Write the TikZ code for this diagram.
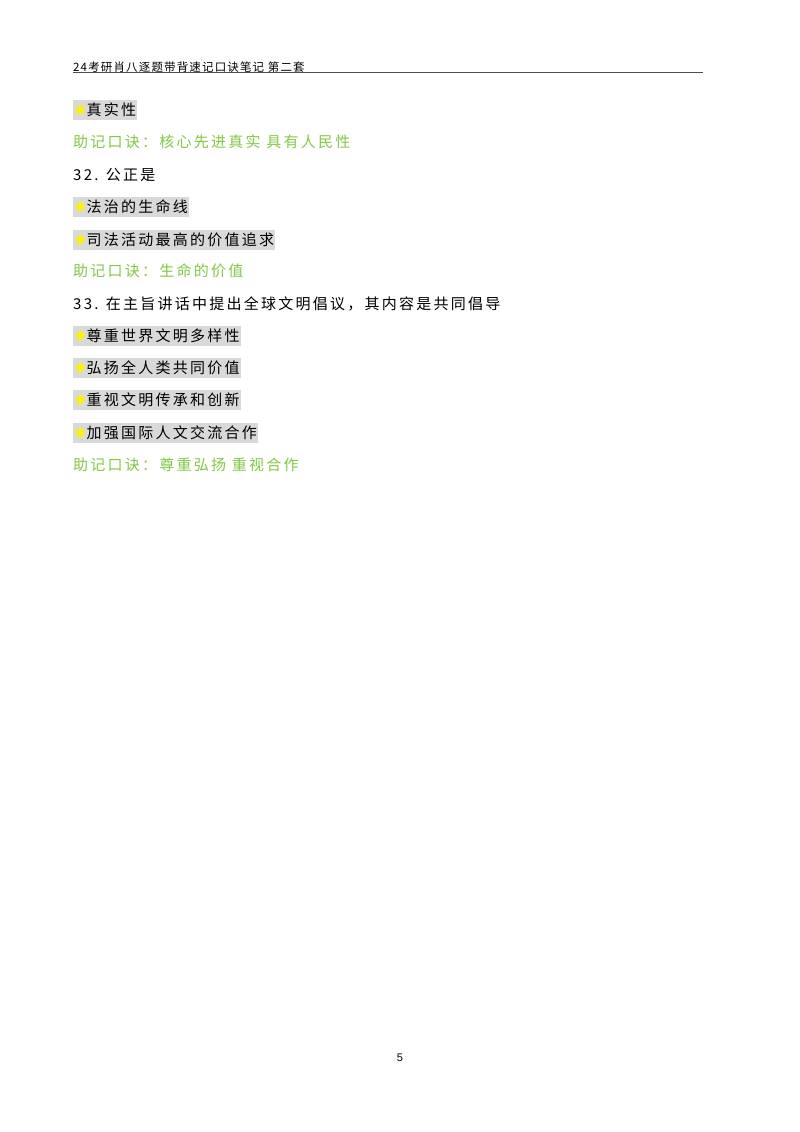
\documentclass[tikz,border=0pt]{standalone}
\usepackage{fontspec}
\setmainfont{Liberation Sans}
\newfontfamily\cjk[LetterSpace=15]{Noto Sans CJK SC}
\newfontfamily\cjkh[LetterSpace=10]{Noto Sans CJK SC}
\usetikzlibrary{shapes.geometric}
\definecolor{mgreen}{RGB}{130,200,70}
\begin{document}
\begin{tikzpicture}[x=1pt,y=-1pt,
  body/.style={anchor=west,inner sep=0pt,font=\cjk\fontsize{15}{18}\selectfont},
  hl/.style={body,fill=black!15,inner ysep=3pt,inner xsep=1pt},
  mnem/.style={body,text=mgreen},
  ttl/.style={body},
  st/.style={star,star points=5,star point ratio=2.3,fill=yellow,inner sep=0pt,minimum size=13pt}]
\useasboundingbox (0,0) rectangle (800,1132);
\fill[white] (0,0) rectangle (800,1132);
\node[anchor=base west,inner sep=0pt,font=\cjkh\fontsize{11.5}{14}\selectfont] (hd) at (73,71) {24考研肖八逐题带背速记口诀笔记\ 第二套};
\coordinate (l1) at (73,72); \coordinate (l2) at (703,72);
\draw[black!70,line width=0.8pt] (l1) -- (l2);
\newcommand{\itm}[3]{\node[hl] (#1) at (73,#2) {\tikz[baseline=-6pt]\node[st]{};#3};}
\itm{a}{110}{真实性}
\node[mnem] (m1) at (73,142) {助记口诀：核心先进真实\ 具有人民性};
\node[ttl] (q32) at (73,175) {32. 公正是};
\itm{b}{207}{法治的生命线}
\itm{c}{240}{司法活动最高的价值追求}
\node[mnem] (m2) at (73,271) {助记口诀：生命的价值};
\node[ttl] (q33) at (73,304) {33. 在主旨讲话中提出全球文明倡议，其内容是共同倡导};
\itm{d}{336}{尊重世界文明多样性}
\itm{e}{368}{弘扬全人类共同价值}
\itm{f}{400}{重视文明传承和创新}
\itm{g}{433}{加强国际人文交流合作}
\node[mnem] (m3) at (73,465) {助记口诀：尊重弘扬\ 重视合作};
\node[font=\fontsize{11}{13}\selectfont] (pg) at (400,1058) {5};
\end{tikzpicture}
\end{document}
